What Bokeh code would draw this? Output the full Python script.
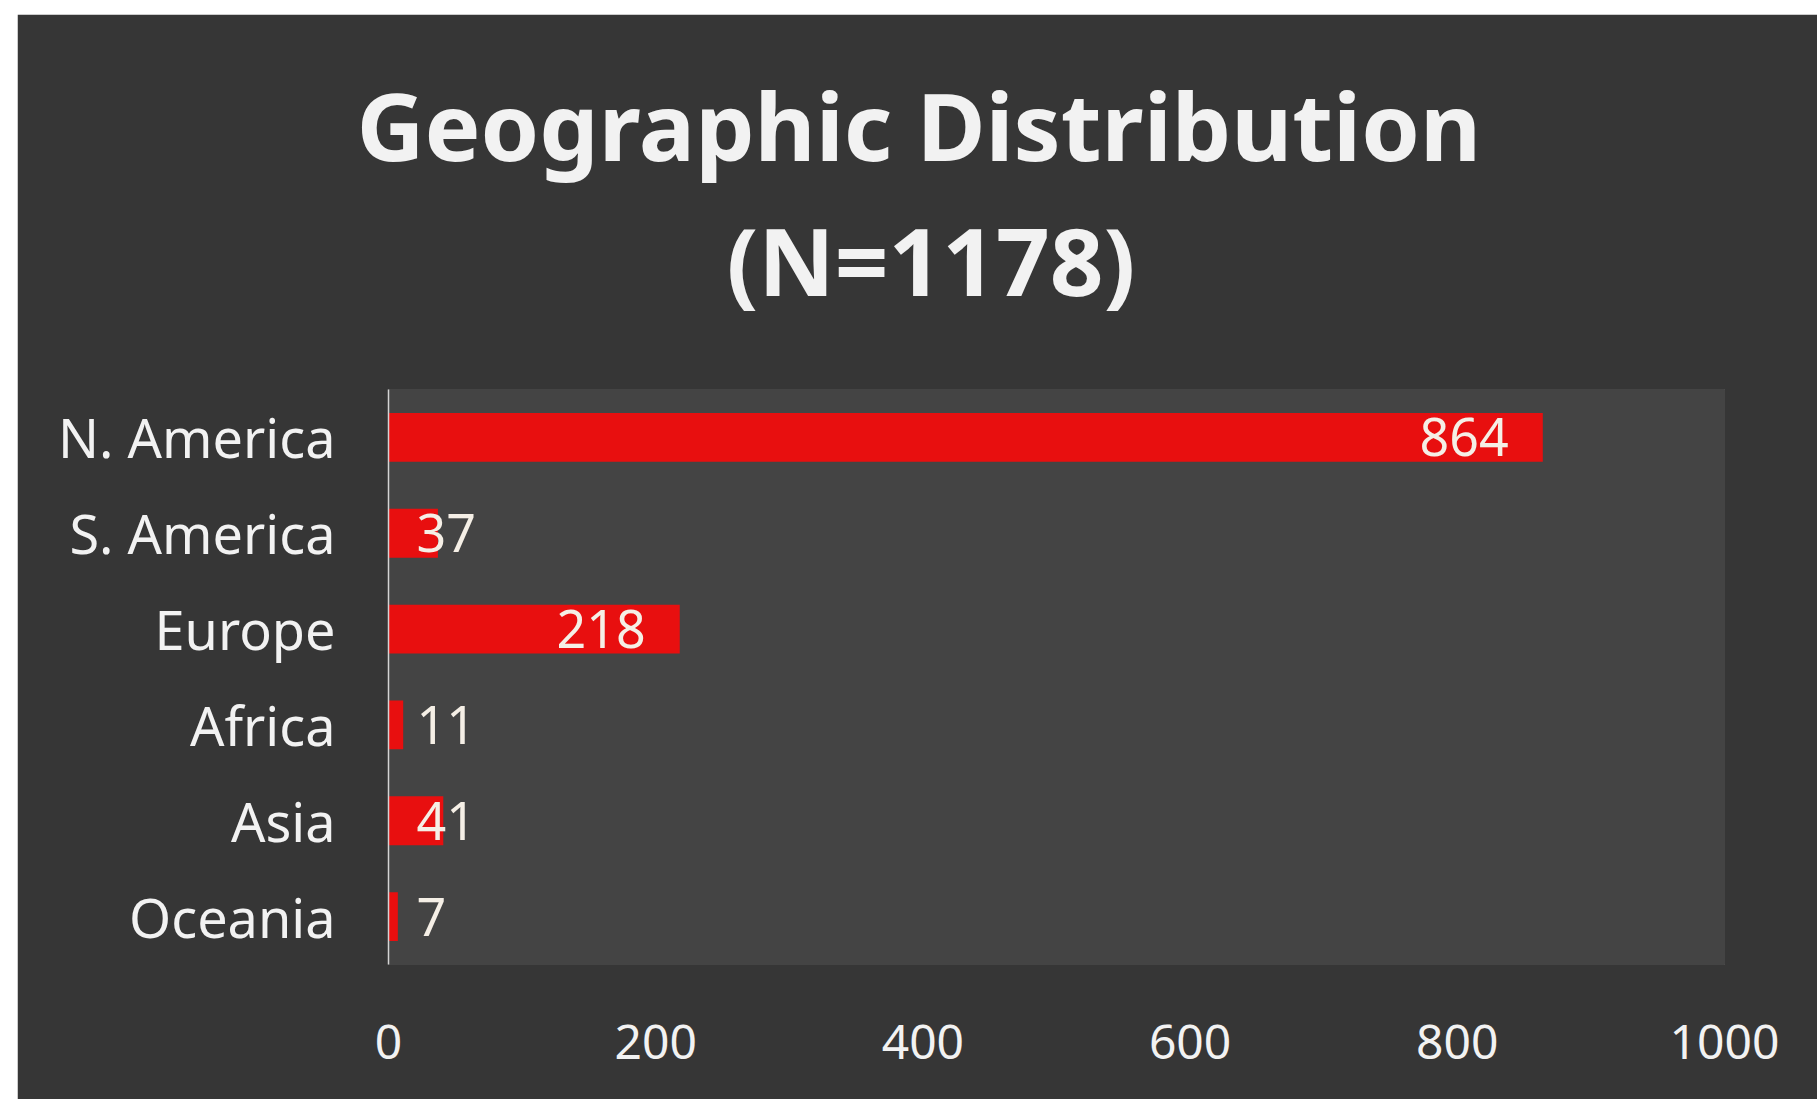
from bokeh.plotting import figure
from bokeh.models import ColumnDataSource, FactorRange, Range1d, FixedTicker, LinearAxis
from bokeh.core.properties import value
from bokeh.embed import file_html
from bokeh.resources import INLINE

# ---- data ----
regions = ["N. America", "S. America", "Europe", "Africa", "Asia", "Oceania"]
counts = [864, 37, 218, 11, 41, 7]
x_ticks = [0, 200, 400, 600, 800, 1000]
title_lines = ["Geographic  Distribution", "(N=1178)"]

BORDER_BG = "#363636"
FRAME_BG = "#444444"
FONT = "Noto Sans"
TXT = "#f2f2f2"

FRAME_W, FRAME_H = 1336, 575
LEFT, TOP = 371, 375
W, H = 1800, 1085
TITLE_X = 406          # horizontal centre of the title block (x data units)

p = figure(width=W, height=H,
           y_range=FactorRange(*reversed(regions)), x_range=Range1d(0, 1000),
           output_backend="svg", toolbar_location=None, title=None,
           min_border_left=LEFT, min_border_right=W - LEFT - FRAME_W,
           min_border_top=TOP, min_border_bottom=H - TOP - FRAME_H,
           background_fill_color=FRAME_BG, border_fill_color=BORDER_BG)
p.margin = (14, 0, 0, 17)
p.outline_line_color = FRAME_BG
p.outline_line_width = 1

src = ColumnDataSource(dict(region=regions, count=counts))
p.hbar(y="region", right="count", left=0, height=0.51, source=src,
       fill_color="#e80f0f", line_color=None)

# data labels
big = [(r, c) for r, c in zip(regions, counts) if c >= 100]
small = [(r, c) for r, c in zip(regions, counts) if c < 100]
src_big = ColumnDataSource(dict(y=[r for r, _ in big], x=[c for _, c in big],
                                t=[str(c) for _, c in big]))
src_small = ColumnDataSource(dict(y=[r for r, _ in small], x=[0] * len(small),
                                  t=[str(c) for _, c in small]))
p.text(x="x", y="y", text="t", source=src_big, text_align="right",
       text_baseline="middle", x_offset=-34, text_color="#f5efe6",
       text_font=value(FONT), text_font_size="52px")
p.text(x="x", y="y", text="t", source=src_small, text_align="left",
       text_baseline="middle", x_offset=28, text_color="#f5efe6",
       text_font=value(FONT), text_font_size="52px")

# bottom value axis
bottom = p.below[0]
bottom.ticker = FixedTicker(ticks=x_ticks)
bottom.axis_line_color = None
bottom.major_tick_line_color = None
bottom.minor_tick_line_color = None
bottom.major_label_text_font = FONT
bottom.major_label_text_font_size = "48px"
bottom.major_label_text_color = TXT
bottom.major_label_standoff = 54

# two-line centred title, drawn as the single label of an axis placed above
title_axis = LinearAxis(ticker=FixedTicker(ticks=[TITLE_X]),
                        major_label_overrides={TITLE_X: "\n".join(title_lines)})
title_axis.axis_line_color = None
title_axis.major_tick_line_color = None
title_axis.minor_tick_line_color = None
title_axis.major_label_text_font = FONT
title_axis.major_label_text_font_size = "94px"
title_axis.major_label_text_font_style = "bold"
title_axis.major_label_text_color = TXT
title_axis.major_label_text_line_height = 1.05
title_axis.major_label_standoff = 60
p.add_layout(title_axis, "above")

p.yaxis.axis_line_color = "#d4d4d4"
p.yaxis.axis_line_width = 1.5
p.yaxis.major_tick_line_color = None
p.yaxis.minor_tick_line_color = None
p.yaxis.major_label_text_font = FONT
p.yaxis.major_label_text_font_size = "54px"
p.yaxis.major_label_text_color = TXT
p.yaxis.major_label_standoff = 47

p.xgrid.grid_line_color = None
p.ygrid.grid_line_color = None

open("out.html", "w").write(file_html(p, INLINE))
